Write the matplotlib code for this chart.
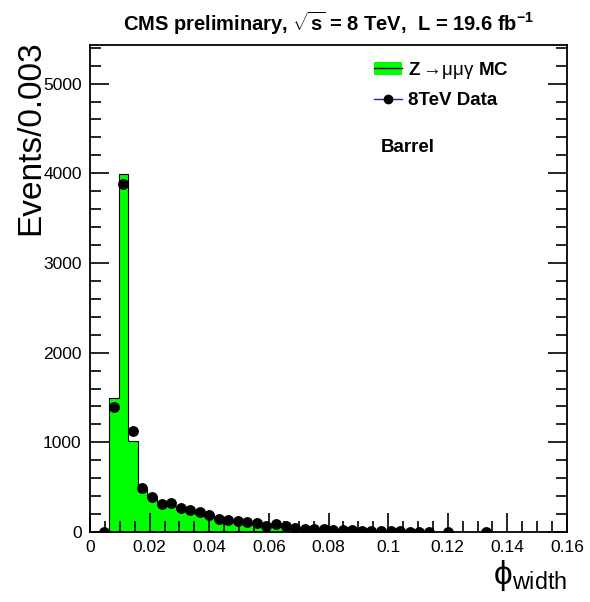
import numpy as np
import matplotlib
matplotlib.use("Agg")
import matplotlib.pyplot as plt
from matplotlib.lines import Line2D
from matplotlib.patches import Patch
from matplotlib.ticker import MultipleLocator

plt.rcParams["font.family"] = ["Liberation Sans", "DejaVu Sans"]
plt.rcParams["mathtext.fontset"] = "custom"
plt.rcParams["mathtext.rm"] = "Liberation Sans"
plt.rcParams["mathtext.bf"] = "Liberation Sans:bold"
plt.rcParams["mathtext.it"] = "Liberation Sans:italic"

# 50 bins between 0 and 0.16
bin_edges = np.linspace(0.0, 0.16, 51)

mc_counts = [0, 0, 1490, 3990, 1010, 480, 385, 330, 290, 260,
             235, 205, 180, 155, 128, 113, 100, 85, 72, 63,
             55, 46, 38, 32, 27, 23, 19, 16, 13, 11,
             9, 8, 6, 5, 4, 4, 3, 3, 2, 2,
             2, 1, 1, 1, 1, 0, 0, 0, 0, 0]

nan = np.nan
data_counts = [nan, 3, 1390, 3885, 1130, 488, 392, 310, 320, 264,
               240, 227, 190, 142, 134, 123, 115, 97, 70, 89,
               70, 50, 33, 30, 28, 22, 20, 18, 15, 12,
               10, 8, 6, 5, 4, 3, nan, 2, nan, nan,
               nan, 1, nan, nan, nan, nan, nan, nan, nan, nan]

mc_label = r"Z$\rightarrow\!\mathrm{\mu\mu\gamma}$ MC"
data_label = "8TeV Data"

fig = plt.figure(figsize=(5.9, 6.02), dpi=100)
ax = fig.add_axes([90 / 590, 70 / 602, 477 / 590, 487 / 602])

ax.stairs(mc_counts, bin_edges, fill=True, color="#00ff00", zorder=1)
ax.stairs(mc_counts, bin_edges, color="black", linewidth=0.8, zorder=2)

centers = 0.5 * (bin_edges[:-1] + bin_edges[1:])
data = np.array(data_counts, dtype=float)
keep = ~np.isnan(data)
ax.plot(centers[keep], data[keep], "o", color="black", ms=6.8, zorder=3)

ax.set_xlim(0, 0.16)
ax.set_ylim(0, 5430)
ax.xaxis.set_major_locator(MultipleLocator(0.02))
ax.xaxis.set_minor_locator(MultipleLocator(0.005))
ax.yaxis.set_major_locator(MultipleLocator(1000))
ax.yaxis.set_minor_locator(MultipleLocator(200))
ax.set_xticks(np.arange(0, 0.161, 0.02))
ax.set_xticklabels(["0", "0.02", "0.04", "0.06", "0.08", "0.1", "0.12", "0.14", "0.16"])
ax.tick_params(which="both", direction="in", top=False, right=True, labelsize=12.5, width=1.2)
ax.tick_params(which="major", length=14, pad=6)
ax.tick_params(which="minor", length=8)
for s in ax.spines.values():
    s.set_linewidth(1.3)

ax.set_ylabel("Events/0.003", fontsize=24, loc="top")
ax.yaxis.set_label_coords(-0.092, 1.01)
ax.set_xlabel(r"$\mathrm{\phi}_{\mathrm{width}}$", fontsize=24, loc="right", labelpad=2)

ax.set_title(r"CMS preliminary, $\sqrt{\mathbf{s}}$ = 8 TeV,  L = 19.6 fb$^{\mathbf{-1}}$",
             fontsize=14.5, fontweight="bold", pad=10)

mc_handle = (Patch(facecolor="#00ff00", edgecolor="none"), Line2D([], [], color="black", lw=1))
data_handle = Line2D([], [], color="#2020c0", lw=1, marker="o", ms=6, mfc="black", mec="black")
leg = ax.legend([mc_handle, data_handle], [mc_label, data_label], loc="upper left",
                bbox_to_anchor=(0.58, 0.985), frameon=False, handlelength=1.5,
                handletextpad=0.3, labelspacing=0.6, borderaxespad=0,
                prop={"weight": "bold", "size": 13.5})

ax.text(0.61, 0.78, "Barrel", transform=ax.transAxes, fontsize=13.5, fontweight="bold")

fig.savefig("out.png", dpi=100)
